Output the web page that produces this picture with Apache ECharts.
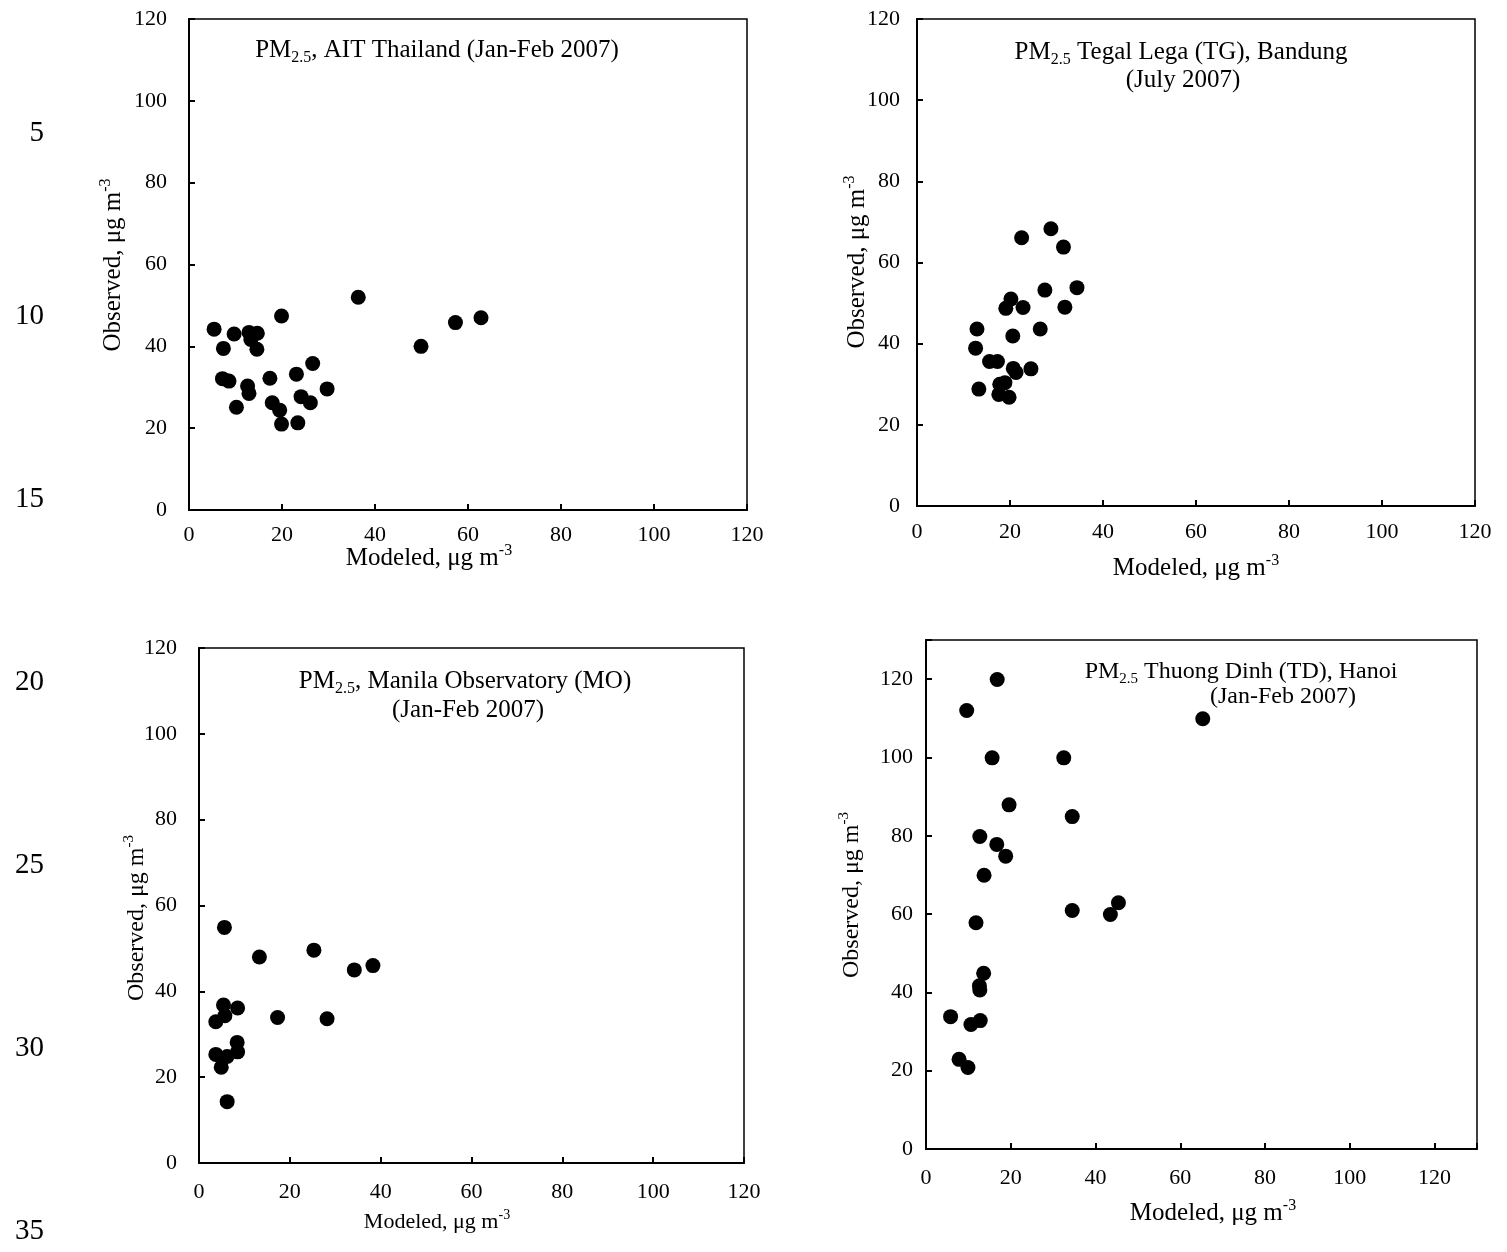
<!DOCTYPE html>
<html><head><meta charset="utf-8">
<script src="https://cdn.jsdelivr.net/npm/echarts@6/dist/echarts.min.js"></script>
<style>html,body{margin:0;padding:0;background:#fff}#c{width:1507px;height:1252px}</style>
</head><body><div id="c"></div>
<script>
// ---- Data (modeled x, observed y), PM2.5 in µg m-3 ----
const aitModeled   = [36.4,19.9,5.4,9.7,12.9,14.7,13.3,7.4,14.6,49.9,57.3,62.8,26.6,7.2,8.6,17.4,23.1,12.6,12.9,29.7,10.2,17.9,19.5,24.1,26.1,19.9,23.4];
const aitObserved  = [52.0,47.4,44.2,43.0,43.4,43.2,41.7,39.5,39.3,40.0,45.8,47.0,35.8,32.1,31.5,32.2,33.2,30.3,28.5,29.6,25.1,26.2,24.4,27.7,26.2,21.0,21.3];

const tgModeled    = [22.5,28.8,31.5,27.5,34.4,20.2,19.1,22.8,31.8,12.9,26.5,20.6,12.6,15.6,17.3,20.7,21.3,24.5,13.3,17.8,18.9,17.6,19.8];
const tgObserved   = [66.1,68.3,63.8,53.2,53.8,51.0,48.7,48.9,49.0,43.6,43.6,41.9,38.9,35.6,35.6,33.9,32.9,33.8,28.8,30.0,30.4,27.5,26.8];

const moModeled    = [5.6,13.3,25.3,34.2,38.3,5.4,8.5,5.7,3.7,17.3,28.2,8.4,8.5,3.7,6.2,4.9,6.2];
const moObserved   = [54.9,48.0,49.6,45.0,46.0,36.8,36.1,34.3,32.9,33.9,33.6,28.1,25.9,25.3,24.8,22.3,14.3];

const tdModeled    = [16.8,9.6,65.3,15.6,32.5,19.6,34.5,12.7,16.7,18.8,13.7,11.8,34.5,43.5,45.4,13.6,12.6,12.7,5.8,10.6,12.8,7.8,9.9];
const tdObserved   = [119.9,112.0,109.9,99.9,99.9,87.9,84.9,79.8,77.8,74.8,69.9,57.8,60.9,59.9,62.9,44.9,41.7,40.6,33.8,31.8,32.8,22.9,20.8];

const tickLabelsXY = [0,20,40,60,80,100,120];
const lineNumbers  = ['5','10','15','20','25','30','35'];

// ---- Layout / style ----
const F = "'Liberation Serif','Times New Roman',serif";
const grids = [
  {left:189, top:19,  width:558, height:491},
  {left:917, top:19,  width:558, height:487},
  {left:199, top:648, width:545, height:515},
  {left:926, top:640, width:551, height:509}
];
const axisMax = [120,120,120,130];
const xLabelMargin = [14,15,18,18];
const yLabelMargin = [22,17,22,13];

function mkAxis(i, isX){
  return {
    type:'value', gridIndex:i, min:0, max:axisMax[i], interval:20,
    axisLine:{show:true, onZero:false, lineStyle:{color:'#000', width:2}},
    axisTick:{show:true, inside:true, length:6, lineStyle:{color:'#000', width:2}},
    splitLine:{show:false},
    axisLabel:{color:'#000', fontFamily:F, fontSize:22, margin: isX ? xLabelMargin[i] : yLabelMargin[i],
      formatter: v => tickLabelsXY.indexOf(v) >= 0 ? String(v) : ''}
  };
}

function richFor(s){
  const sm = Math.round(s*0.62);
  return {
    b:{fontFamily:F, fontSize:s, lineHeight:Math.round(s*1.25), verticalAlign:'middle', color:'#000'},
    sup:{fontFamily:F, fontSize:sm, lineHeight:sm, verticalAlign:'top', color:'#000'},
    sub:{fontFamily:F, fontSize:sm, lineHeight:sm, verticalAlign:'bottom', color:'#000'}
  };
}
function txt(x, y, text, size, rot){
  const el = {type:'text', x:x, y:y, z:10,
    style:{text:text, rich:richFor(size), fill:'#000', font:size+'px '+F,
      textAlign:'center', textVerticalAlign:'middle', align:'center', verticalAlign:'middle'}};
  if (rot) el.rotation = Math.PI/2;
  return el;
}
const xName = '{b|Modeled, μg m}{sup|-3}';
const yName = '{b|Observed, μg m}{sup|-3}';

const graphics = [
  // panel titles
  txt(437, 50, '{b|PM}{sub|2.5}{b|, AIT Thailand (Jan-Feb 2007)}', 25),
  txt(1181, 52, '{b|PM}{sub|2.5}{b| Tegal Lega (TG), Bandung}', 25),
  txt(1183, 80, '{b|(July 2007)}', 25),
  txt(465, 681, '{b|PM}{sub|2.5}{b|, Manila Observatory (MO)}', 25),
  txt(468, 710, '{b|(Jan-Feb 2007)}', 25),
  txt(1241, 672, '{b|PM}{sub|2.5}{b| Thuong Dinh (TD), Hanoi}', 24),
  txt(1283, 697, '{b|(Jan-Feb 2007)}', 24),
  // axis names
  txt(429, 558, xName, 25), txt(113, 265, yName, 25, true),
  txt(1196, 568, xName, 25), txt(857, 262, yName, 25, true),
  txt(437, 1222, xName, 22), txt(137, 918, yName, 24, true),
  txt(1213, 1213, xName, 25), txt(852, 895, yName, 24, true)
];
lineNumbers.forEach((n, k) => {
  graphics.push({type:'text', x:44, y:133 + 183*k, style:{text:n, fill:'#000',
    font:'29px '+F, textAlign:'right', textVerticalAlign:'middle', align:'right', verticalAlign:'middle'}});
});

const pairs = (xs, ys) => xs.map((x, k) => [x, ys[k]]);
const dataSets = [pairs(aitModeled, aitObserved), pairs(tgModeled, tgObserved),
                  pairs(moModeled, moObserved), pairs(tdModeled, tdObserved)];

const chart = echarts.init(document.getElementById('c'), null, {renderer:'canvas'});
chart.setOption({
  backgroundColor:'#fff',
  animation:false,
  grid: grids.map(g => Object.assign({show:true, borderColor:'#000', borderWidth:1.5, backgroundColor:'transparent'}, g)),
  xAxis: [0,1,2,3].map(i => mkAxis(i, true)),
  yAxis: [0,1,2,3].map(i => mkAxis(i, false)),
  series: dataSets.map((d, i) => ({
    type:'scatter', xAxisIndex:i, yAxisIndex:i, data:d,
    symbol:'circle', symbolSize:15, itemStyle:{color:'#000', opacity:1}
  })),
  graphic: graphics
});
</script>
</body></html>
